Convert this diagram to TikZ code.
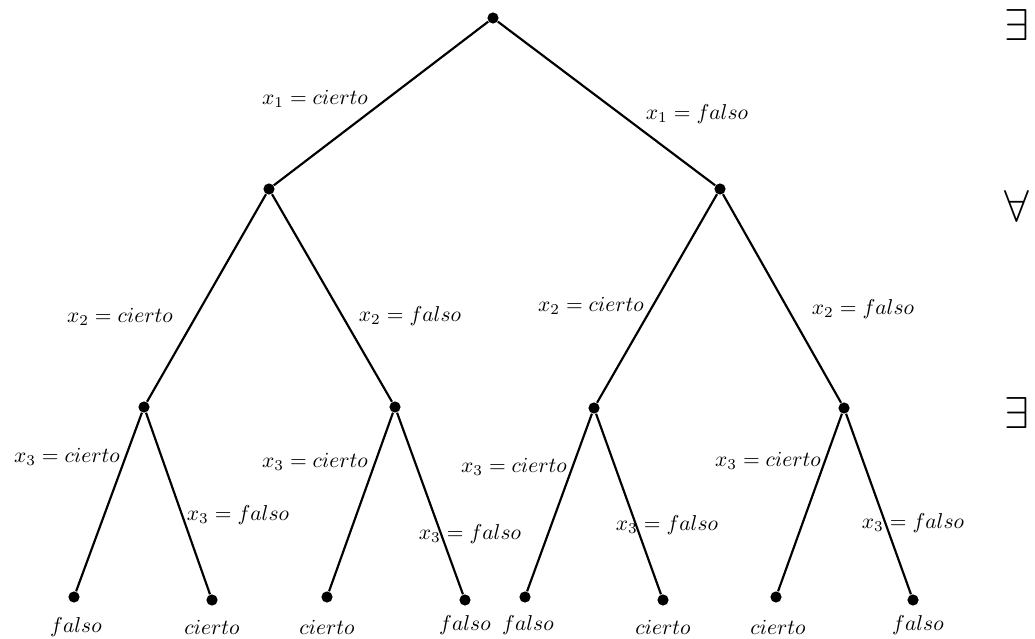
\documentclass[tikz,border=0pt]{standalone}
\begin{document}
\begin{tikzpicture}[x=0.01634cm, y=-0.01634cm,
    punto/.style={circle, fill=black, inner sep=0pt, minimum size=5.2pt},
    rama/.style={line width=1pt},
    etiq/.style={inner sep=0pt},
    cuant/.style={font=\huge, inner sep=0pt}]
    % --- marco de la figura ---
    \useasboundingbox (0,0) rectangle (1035,639);

    % --- nodos del arbol ---
    \node[punto] (r) at (493,18) {};
    % nivel x1
    \node[punto] (a) at (269,189) {};
    \node[punto] (b) at (720,189) {};
    % nivel x2
    \node[punto] (aa) at (144,407) {};
    \node[punto] (ab) at (395,407) {};
    \node[punto] (ba) at (594,408) {};
    \node[punto] (bb) at (844,408) {};
    % hojas (nivel x3)
    \node[punto] (aaa) at (74,597) {};
    \node[punto] (aab) at (212,600) {};
    \node[punto] (aba) at (327,597) {};
    \node[punto] (abb) at (465,600) {};
    \node[punto] (baa) at (525,597) {};
    \node[punto] (bab) at (663,600) {};
    \node[punto] (bba) at (776,597) {};
    \node[punto] (bbb) at (913,600) {};

    % --- ramas ---
    \draw[rama] (r) -- (a);
    \draw[rama] (r) -- (b);
    \draw[rama] (a) -- (aa);
    \draw[rama] (a) -- (ab);
    \draw[rama] (b) -- (ba);
    \draw[rama] (b) -- (bb);
    \draw[rama] (aa) -- (aaa);
    \draw[rama] (aa) -- (aab);
    \draw[rama] (ab) -- (aba);
    \draw[rama] (ab) -- (abb);
    \draw[rama] (ba) -- (baa);
    \draw[rama] (ba) -- (bab);
    \draw[rama] (bb) -- (bba);
    \draw[rama] (bb) -- (bbb);

    % --- etiquetas de las ramas ---
    \node[etiq] (e1c) at (315,99) {$x_1 = cierto$};
    \node[etiq] (e1f) at (697,114) {$x_1 = falso$};
    \node[etiq] (e2c1) at (120,317) {$x_2 = cierto$};
    \node[etiq] (e2f1) at (410,316) {$x_2 = falso$};
    \node[etiq] (e2c2) at (591,306) {$x_2 = cierto$};
    \node[etiq] (e2f2) at (863,309) {$x_2 = falso$};
    \node[etiq] (e3c1) at (67,457) {$x_3 = cierto$};
    \node[etiq] (e3f1) at (238,515) {$x_3 = falso$};
    \node[etiq] (e3c2) at (315,462) {$x_3 = cierto$};
    \node[etiq] (e3f2) at (470,534) {$x_3 = falso$};
    \node[etiq] (e3c3) at (514,467) {$x_3 = cierto$};
    \node[etiq] (e3f3) at (667,525) {$x_3 = falso$};
    \node[etiq] (e3c4) at (768,461) {$x_3 = cierto$};
    \node[etiq] (e3f4) at (913,523) {$x_3 = falso$};

    % --- valores en las hojas ---
    \node[etiq] (taaa) at (76,627) {$falso$};
    \node[etiq] (taab) at (212,627) {$cierto$};
    \node[etiq] (taba) at (327,627) {$cierto$};
    \node[etiq] (tabb) at (465,625) {$falso$};
    \node[etiq] (tbaa) at (528,625) {$falso$};
    \node[etiq] (tbab) at (663,627) {$cierto$};
    \node[etiq] (tbba) at (778,627) {$cierto$};
    \node[etiq] (tbbb) at (918,625) {$falso$};

    % --- cuantificadores ---
    \node[cuant] (q1) at (1017,25) {$\exists$};
    \node[cuant] (q2) at (1017,206) {$\forall$};
    \node[cuant] (q3) at (1017,413) {$\exists$};
\end{tikzpicture}
\end{document}
